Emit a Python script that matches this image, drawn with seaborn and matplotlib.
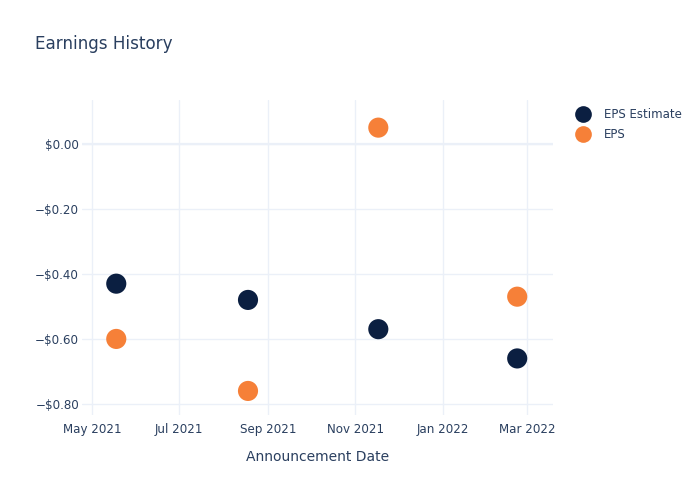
import matplotlib
matplotlib.use("Agg")
import matplotlib.pyplot as plt
import matplotlib.dates as mdates
from matplotlib.ticker import FuncFormatter
import seaborn as sns
import pandas as pd
import numpy as np

dates = ["2021-05-18", "2021-08-18", "2021-11-17", "2022-02-22"]
eps_estimate = [-0.43, -0.48, -0.57, -0.66]
eps_actual = [-0.60, -0.76, 0.05, -0.47]
series_names = ["EPS Estimate", "EPS"]
colors = ["#0b1f41", "#f68038"]

df = pd.DataFrame({
    "date": pd.to_datetime(dates * 2),
    "value": eps_estimate + eps_actual,
    "series": [series_names[0]] * len(dates) + [series_names[1]] * len(dates),
})

sns.set_theme(style="white")
plt.rcParams["font.family"] = ["DejaVu Sans"]
text_color = "#2a3f5f"
grid_color = "#ebf0f8"

fig = plt.figure(figsize=(7, 5), dpi=100)
ax = fig.add_axes([0.117, 0.17, 0.673, 0.63])

sns.scatterplot(data=df, x="date", y="value", hue="series", hue_order=series_names,
                palette=colors, s=210, edgecolor="none", ax=ax, zorder=3, legend=True)

ax.set_xlim(pd.Timestamp("2021-04-24"), pd.Timestamp("2022-03-19"))
ax.set_ylim(-0.834, 0.135)

xticks = pd.to_datetime(["2021-05-01", "2021-07-01", "2021-09-01", "2021-11-01", "2022-01-01", "2022-03-01"])
ax.set_xticks(xticks)
ax.xaxis.set_major_formatter(mdates.DateFormatter("%b %Y"))
ax.set_yticks([0.0, -0.2, -0.4, -0.6, -0.8])
ax.yaxis.set_major_formatter(FuncFormatter(lambda v, p: ("\u2212" if v < -1e-9 else "") + f"${abs(v):.2f}"))

ax.grid(True, color=grid_color, linewidth=1)
ax.axhline(0, color=grid_color, linewidth=1.6, zorder=1)
for s in ax.spines.values():
    s.set_visible(False)
ax.tick_params(axis="x", length=0, labelsize=8.6, colors=text_color, pad=6)
ax.tick_params(axis="y", length=0, labelsize=8.6, colors=text_color, pad=2)
ax.set_xlabel("Announcement Date", fontsize=10, color=text_color, labelpad=10)
ax.set_ylabel("")

fig.text(0.05, 0.912, "Earnings History", fontsize=12.1, color=text_color, ha="left", va="center")

leg = ax.legend(loc="upper left", bbox_to_anchor=(1.051, 0.975), frameon=False,
                fontsize=8.5, handlelength=1.0, handletextpad=1.25, labelspacing=0.6,
                borderaxespad=0.0, borderpad=0.0, markerscale=0.83)
for t in leg.get_texts():
    t.set_color(text_color)

fig.savefig("out.png", dpi=100)
